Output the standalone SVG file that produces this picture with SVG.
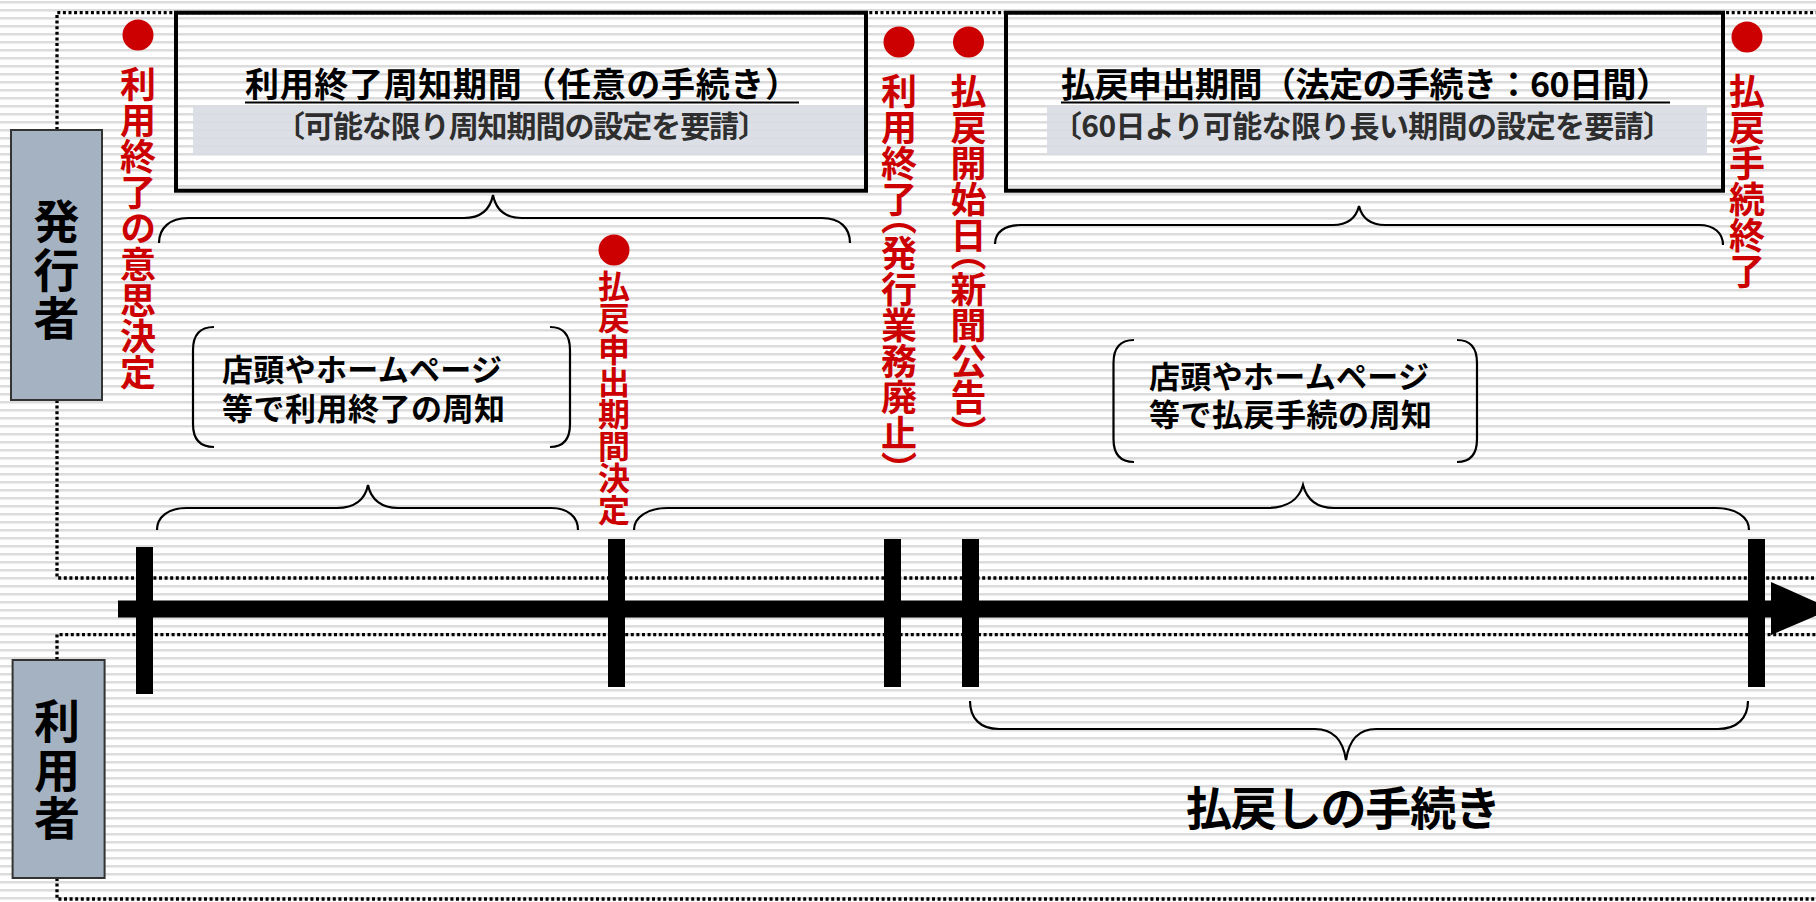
<svg xmlns="http://www.w3.org/2000/svg" width="1816" height="902" viewBox="0 0 1816 902">
<defs>
<pattern id="stripes" x="0" y="1" width="16" height="8" patternUnits="userSpaceOnUse">
<rect width="16" height="8" fill="#ffffff"/>
<rect y="0" width="16" height="2" fill="#dcdcdc"/>
<rect y="2" width="16" height="1" fill="#ececec"/>
</pattern>
<style>
.dot{fill:none;stroke:#000;stroke-width:3.3;stroke-dasharray:3 2.6}
.box{fill:none;stroke:#000;stroke-width:4}
.band{fill:#d8dde3;opacity:0.9}
.actor{fill:#a4b2c1;stroke:#333;stroke-width:2}
.actorText{font-family:"Noto Sans CJK JP","Noto Sans",sans-serif;font-size:46px;font-weight:bold;fill:#000;writing-mode:vertical-rl;letter-spacing:2.5px}
.title{font-family:"Noto Sans CJK JP","Noto Sans",sans-serif;font-size:34px;font-weight:bold;fill:#000}
.sub{font-family:"Noto Sans CJK JP","Noto Sans",sans-serif;font-size:30px;font-weight:bold;fill:#2e2e2e}
.uline{stroke:#000;stroke-width:2}
.red{fill:#cc0000}
.vt{font-family:"Noto Sans CJK JP","Noto Sans",sans-serif;font-size:36px;font-weight:bold;fill:#cc0000;writing-mode:vertical-rl;font-feature-settings:"vhal" 1}
.note{font-family:"Noto Sans CJK JP","Noto Sans",sans-serif;font-size:31px;font-weight:bold;fill:#000}
.brace{fill:none;stroke:#000;stroke-width:2.2}
.big{font-family:"Noto Sans CJK JP","Noto Sans",sans-serif;font-size:46px;font-weight:bold;fill:#000}
</style>
</defs>
<rect width="1816" height="902" fill="url(#stripes)"/>

<g id="lane-issuer-frame">
<path class="dot" d="M57,130 V12.7 H1816"/>
<path class="dot" d="M57,400 V578 H1816"/>
</g>
<g id="lane-user-frame">
<path class="dot" d="M57,660 V634.6 H1816"/>
<path class="dot" d="M57,878 V899 H1816"/>
</g>

<g id="actor-issuer">
<rect class="actor" x="11" y="130" width="91" height="270"/>
<text class="actorText" x="56.5" y="198">発行者</text>
</g>
<g id="actor-user">
<rect class="actor" x="12.6" y="660" width="92" height="218"/>
<text class="actorText" x="57" y="698">利用者</text>
</g>

<g id="period-notice">
<rect class="band" x="193" y="106" width="673" height="49"/>
<rect class="box" x="176" y="12.7" width="690" height="178"/>
<text class="title" x="245" y="97" textLength="554" lengthAdjust="spacing">利用終了周知期間（任意の手続き）</text>
<line class="uline" x1="245" y1="102.5" x2="799" y2="102.5"/>
<text class="sub" x="275" y="137" textLength="493" lengthAdjust="spacing">〔可能な限り周知期間の設定を要請〕</text>
</g>

<g id="period-refund">
<rect class="band" x="1047" y="106" width="660" height="49"/>
<rect class="box" x="1006" y="12.7" width="717" height="178"/>
<text class="title" x="1061" y="97" textLength="609" lengthAdjust="spacing">払戻申出期間（法定の手続き：60日間）</text>
<line class="uline" x1="1061" y1="102.5" x2="1670" y2="102.5"/>
<text class="sub" x="1052" y="137" textLength="621" lengthAdjust="spacing">〔60日より可能な限り長い期間の設定を要請〕</text>
</g>

<g id="milestone-decision">
<circle class="red" cx="138" cy="35" r="15.5"/>
<text class="vt" x="138" y="66">利用終了の意思決定</text>
</g>
<g id="milestone-period-decided">
<circle class="red" cx="614" cy="250" r="15.5"/>
<text class="vt" x="614" y="270" style="font-size:32px">払戻申出期間決定</text>
</g>
<g id="milestone-end">
<circle class="red" cx="899" cy="42" r="15.5"/>
<text class="vt" x="899" y="73">利用終了（発行業務廃止）</text>
</g>
<g id="milestone-refund-start">
<circle class="red" cx="968.5" cy="42" r="15.5"/>
<text class="vt" x="968.5" y="73">払戻開始日（新聞公告）</text>
</g>
<g id="milestone-refund-end">
<circle class="red" cx="1747" cy="37" r="15.5"/>
<text class="vt" x="1747" y="73">払戻手続終了</text>
</g>

<g id="note-notice">
<path class="brace" d="M214,327 C200,327 193,335 193,350 L193,424 C193,439 200,447 214,447"/>
<path class="brace" d="M550,327 C564,327 570,335 570,350 L570,424 C570,439 564,447 550,447"/>
<text class="note"><tspan x="222" y="381" textLength="280" lengthAdjust="spacing">店頭やホームページ</tspan><tspan x="222" y="420" textLength="283" lengthAdjust="spacing">等で利用終了の周知</tspan></text>
</g>
<g id="note-refund">
<path class="brace" d="M1134,340 C1120,340 1113.5,348 1113.5,363 L1113.5,439 C1113.5,454 1120,462 1134,462"/>
<path class="brace" d="M1457,340 C1471,340 1477,348 1477,363 L1477,439 C1477,454 1471,462 1457,462"/>
<text class="note"><tspan x="1149" y="388" textLength="280" lengthAdjust="spacing">店頭やホームページ</tspan><tspan x="1149" y="426" textLength="283" lengthAdjust="spacing">等で払戻手続の周知</tspan></text>
</g>

<g id="braces">
<path class="brace" d="M159,243 C159,228 170,218 188,218 L464,218 C481,218 490,210 493,195 C496,210 505,218 522,218 L822,218 C840,218 850,228 850,243"/>
<path class="brace" d="M995,244 C995,232 1005,225 1021,225 L1333,225 C1348,225 1356,218 1359,206 C1362,218 1370,225 1385,225 L1699,225 C1714,225 1723,233 1723,245"/>
<path class="brace" d="M157,530 C157,517 168,508 187,508 L337,508 C354,508 365,500 368,485 C371,500 382,508 398,508 L551,508 C568,508 578,517 578,530"/>
<path class="brace" d="M634,530 C634,517 648,508 668,508 L1267,508 C1286,508 1299,500 1303,485 C1307,500 1318,508 1334,508 L1715,508 C1736,508 1749,517 1749,530"/>
<path class="brace" d="M970,701 C970,718 980,729 999,729 L1315,729 C1333,729 1343,740 1346,760 C1349,740 1359,729 1376,729 L1718,729 C1737,729 1748,718 1748,701"/>
</g>

<g id="refund-procedure">
<text class="big" x="1186" y="825" textLength="315" lengthAdjust="spacing">払戻しの手続き</text>
</g>

<g id="connectors">
<rect x="118" y="600.5" width="1654" height="17" fill="#000"/>
<polygon points="1771,582 1832,609 1771,635" fill="#000"/>
<rect x="136" y="547" width="17" height="147" fill="#000"/>
<rect x="608" y="539" width="17" height="148" fill="#000"/>
<rect x="884" y="539" width="17" height="148" fill="#000"/>
<rect x="962" y="539" width="17" height="148" fill="#000"/>
<rect x="1748" y="539" width="17" height="148" fill="#000"/>
</g>
</svg>
